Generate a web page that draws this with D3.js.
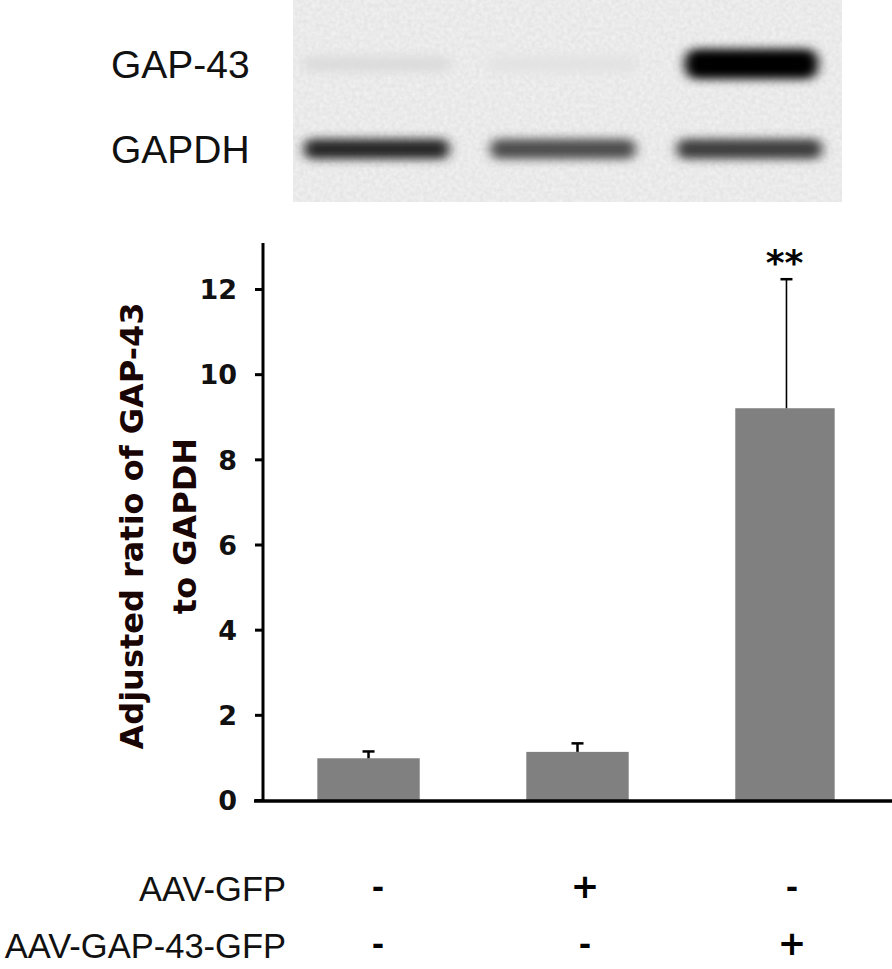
<!DOCTYPE html>
<html>
<head>
<meta charset="utf-8">
<script src="https://cdn.jsdelivr.net/npm/d3@7"></script>
<style>
  body { margin: 0; background: #fff; }
  svg { display: block; }
</style>
</head>
<body>
<div id="chart"></div>
<script>
// data
const groups = ["ctrl", "AAV-GFP", "AAV-GAP-43-GFP"];
const means = [0.98, 1.13, 9.2];
const errUp = [0.16, 0.2, 3.03];
const yTicks = [0, 2, 4, 6, 8, 10, 12];
const treatRows = ["AAV-GFP", "AAV-GAP-43-GFP"];
const treatSigns = [["-", "+", "-"], ["-", "-", "+"]];
const blotRows = ["GAP-43", "GAPDH"];
// relative band darkness per lane (0 = none, 1 = saturated)
const blotGap43 = [0.1, 0.07, 1.0];
const blotGapdh = [0.85, 0.68, 0.75];

const W = 892, H = 969;
const svg = d3.select("#chart").append("svg")
    .attr("width", W)
    .attr("height", H);

const blot = {x0: 293, x1: 842, y0: 0, y1: 202};

const defs = svg.append("defs");
const blur = defs.append("filter").attr("id", "blur")
    .attr("x", "-20%").attr("y", "-80%").attr("width", "140%").attr("height", "260%");
blur.append("feGaussianBlur").attr("stdDeviation", "6 5");

const noise = defs.append("filter").attr("id", "noise")
    .attr("filterUnits", "userSpaceOnUse")
    .attr("x", blot.x0).attr("y", blot.y0)
    .attr("width", blot.x1 - blot.x0).attr("height", blot.y1 - blot.y0);
noise.append("feTurbulence").attr("type", "fractalNoise")
    .attr("baseFrequency", 0.25).attr("numOctaves", 2).attr("seed", 3);
noise.append("feColorMatrix").attr("type", "matrix")
    .attr("values", "0 0 0 0 0  0 0 0 0 0  0 0 0 0 0  0 0 0 0.08 0");

const clip = defs.append("clipPath").attr("id", "blotClip");
clip.append("rect")
    .attr("x", blot.x0).attr("y", blot.y0)
    .attr("width", blot.x1 - blot.x0).attr("height", blot.y1 - blot.y0);

// ---- western blot panel ----
const blotG = svg.append("g").attr("clip-path", "url(#blotClip)");
blotG.append("rect")
    .attr("x", blot.x0).attr("y", blot.y0)
    .attr("width", blot.x1 - blot.x0).attr("height", blot.y1 - blot.y0)
    .attr("fill", "#f4f4f4");
blotG.append("rect")
    .attr("x", blot.x0).attr("y", blot.y0)
    .attr("width", blot.x1 - blot.x0).attr("height", blot.y1 - blot.y0)
    .attr("filter", "url(#noise)");

const lane = d3.scaleBand().domain(groups).range([302, 824]).paddingInner(0.2);
const rowY = d3.scalePoint().domain(blotRows).range([64, 149]);
const dark = d3.scaleLinear().domain([0, 1]).range(["#f4f4f4", "#000"]);

const bands = blotG.append("g").attr("filter", "url(#blur)");
bands.selectAll(".gap43")
    .data(blotGap43)
    .enter().append("rect")
      .attr("class", "gap43")
      .attr("x", (d, i) => lane(groups[i]) + (i === 2 ? 10 : 0))
      .attr("width", (d, i) => lane.bandwidth() - (i === 2 ? 16 : 0))
      .attr("y", (d, i) => rowY("GAP-43") - (i === 2 ? 15 : 8))
      .attr("height", (d, i) => i === 2 ? 30 : 16)
      .attr("rx", 12)
      .attr("fill", d => dark(d));
bands.selectAll(".gapdh")
    .data(blotGapdh)
    .enter().append("rect")
      .attr("class", "gapdh")
      .attr("x", (d, i) => lane(groups[i]) + 2)
      .attr("width", lane.bandwidth() - 4)
      .attr("y", rowY("GAPDH") - 10)
      .attr("height", 20)
      .attr("rx", 8)
      .attr("fill", d => dark(d));

svg.selectAll(".blotLabel")
    .data(blotRows)
    .enter().append("text")
      .attr("class", "blotLabel")
      .attr("x", 111)
      .attr("y", d => rowY(d) + 14)
      .attr("font-family", "Liberation Sans, Arial, sans-serif")
      .attr("font-size", 39)
      .attr("fill", "#111")
      .text(d => d);

// ---- bar chart ----
const x = d3.scaleBand().domain(groups).range([263, 892]).paddingInner(0.51).paddingOuter(0.26);
const y = d3.scaleLinear().domain([0, 12]).range([800, 289]);

svg.selectAll(".bar")
    .data(means)
    .enter().append("rect")
      .attr("class", "bar")
      .attr("x", (d, i) => x(groups[i]))
      .attr("width", (d, i) => x.bandwidth() - (i === 2 ? 3 : 0))
      .attr("y", d => y(d))
      .attr("height", d => y(0) - y(d))
      .attr("fill", "#808080");

const eb = svg.append("g").attr("stroke", "#000");
means.forEach((m, i) => {
    const cx = x(groups[i]) + x.bandwidth() / 2;
    const sw = i === 2 ? 1.6 : 2.5;
    eb.append("line")
        .attr("x1", cx).attr("x2", cx)
        .attr("y1", y(m)).attr("y2", y(m + errUp[i]))
        .attr("stroke-width", sw);
    eb.append("line")
        .attr("x1", cx - 6).attr("x2", cx + 6)
        .attr("y1", y(m + errUp[i])).attr("y2", y(m + errUp[i]))
        .attr("stroke-width", 2.5);
});

svg.append("text")
    .attr("x", x(groups[2]) + x.bandwidth() / 2 - 2)
    .attr("y", y(means[2] + errUp[2]) - 4)
    .attr("text-anchor", "middle")
    .attr("font-family", "DejaVu Sans, sans-serif")
    .attr("font-weight", "bold")
    .attr("font-size", 36)
    .text("**");

// y axis
const yAxis = svg.append("g")
    .attr("transform", "translate(263,0)")
    .call(d3.axisLeft(y).tickValues(yTicks).tickSize(8).tickPadding(18).tickFormat(d3.format("d")));
yAxis.select(".domain").remove();
yAxis.selectAll(".tick line").attr("stroke", "#000").attr("stroke-width", 3);
yAxis.selectAll(".tick text")
    .attr("font-family", "DejaVu Sans, Verdana, sans-serif")
    .attr("font-weight", "bold")
    .attr("font-size", 27)
    .attr("dy", "0.36em")
    .attr("fill", "#111");
svg.append("line")
    .attr("x1", 263).attr("x2", 263)
    .attr("y1", 243).attr("y2", 801)
    .attr("stroke", "#000").attr("stroke-width", 3);
svg.append("line")
    .attr("x1", 254).attr("x2", 892)
    .attr("y1", 801).attr("y2", 801)
    .attr("stroke", "#000").attr("stroke-width", 3.5);

// y axis title
const yt = svg.append("text")
    .attr("transform", "translate(0,526) rotate(-90)")
    .attr("text-anchor", "middle")
    .attr("font-family", "DejaVu Sans, Verdana, sans-serif")
    .attr("font-weight", "bold")
    .attr("font-size", 32)
    .attr("fill", "#1a0505");
yt.append("tspan").attr("x", 0).attr("y", 143).text("Adjusted ratio of GAP-43");
yt.append("tspan").attr("x", 0).attr("y", 196).text("to GAPDH");

// treatment table
const rowPos = d3.scalePoint().domain(treatRows).range([901, 958]);
svg.selectAll(".treat")
    .data(treatRows)
    .enter().append("text")
      .attr("class", "treat")
      .attr("x", 286)
      .attr("y", d => rowPos(d))
      .attr("text-anchor", "end")
      .attr("font-family", "Liberation Sans, Arial, sans-serif")
      .attr("font-size", 34.5)
      .attr("fill", "#111")
      .text(d => d);

const signX = d3.scalePoint().domain(groups).range([378, 792]);
treatRows.forEach((r, ri) => {
    svg.selectAll(".sign" + ri)
        .data(treatSigns[ri])
        .enter().append("text")
          .attr("x", (d, i) => signX(groups[i]))
          .attr("y", rowPos(r) - 3)
          .attr("text-anchor", "middle")
          .attr("font-family", "DejaVu Sans, sans-serif")
          .attr("font-weight", "bold")
          .attr("font-size", d => d === "+" ? 34 : 30)
          .text(d => d);
});
</script>
</body>
</html>
